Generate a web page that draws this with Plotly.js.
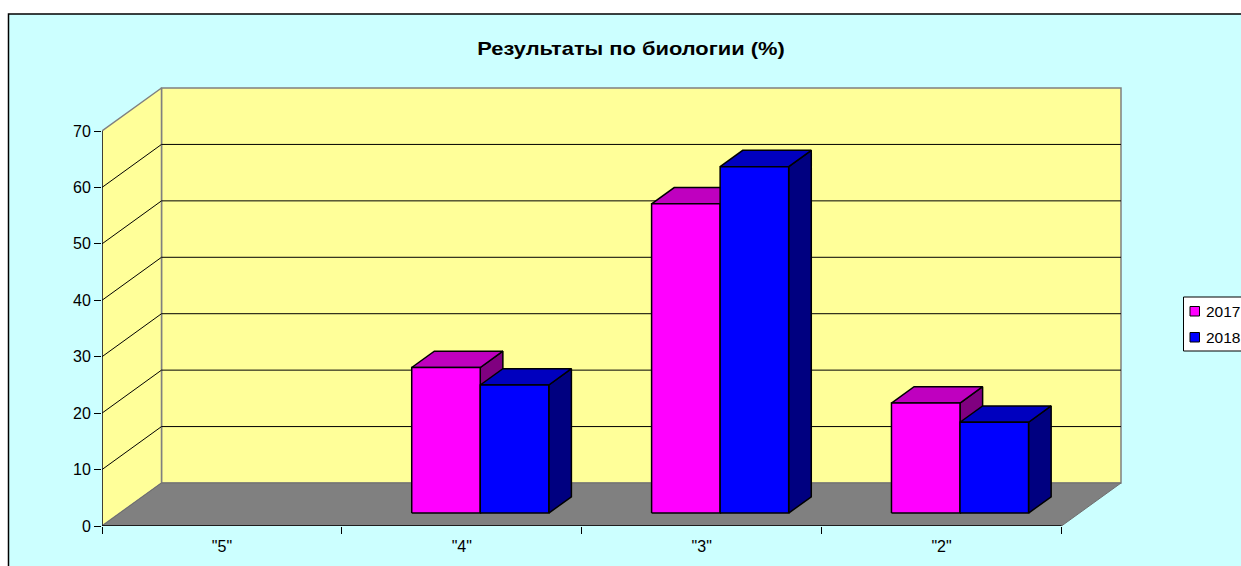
<!DOCTYPE html>
<html>
<head>
<meta charset="utf-8">
<script src="https://cdn.plot.ly/plotly-3.0.1.min.js"></script>
<style>
html,body{margin:0;padding:0;background:#fff;overflow:hidden}
#chart{width:1241px;height:566px}
#chart .gtitle{transform-box:fill-box;transform-origin:center;transform:scaleX(1.215)}
</style>
</head>
<body>
<div id="chart"></div>
<script>
const categories = ['"5"', '"4"', '"3"', '"2"'];
const seriesNames = ['2017', '2018'];
const values2017 = [0, 25.8, 54.8, 19.5];
const values2018 = [0, 22.7, 61.4, 16.1];
const yTicks = [0, 10, 20, 30, 40, 50, 60, 70];
const chartTitle = 'Результаты по биологии (%)';

// pixel frame of the chart
const W = 1241, H = 566;
const L = 102, R = 1122, T = 86, B = 526;
const unitX = (1061.5 - 102) / 4;
const unitY = (526 - 131) / 70;
const depthX = 59.5 / unitX, depthY = 43 / unitY;
const yMax = 70;
const barW = 1 / 3.5, barDepth = 0.38, barGapX = 0.31, barGapY = 0.3;

const font = 'Arial, "Liberation Sans", sans-serif';
const px = x => (x - L) / (R - L);
const py = y => (B - y) / (B - T);

const traces = [];
function poly(xs, ys, fill, line, width) {
  traces.push({
    type: 'scatter', mode: 'lines', x: xs.concat(xs[0]), y: ys.concat(ys[0]),
    fill: 'toself', fillcolor: fill, line: {color: line, width: width},
    hoverinfo: 'skip', showlegend: false, cliponaxis: false
  });
}
function seg(xs, ys, color, width) {
  traces.push({
    type: 'scatter', mode: 'lines', x: xs, y: ys, line: {color: color, width: width},
    hoverinfo: 'skip', showlegend: false, cliponaxis: false
  });
}

const xEnd = categories.length;
// walls and floor
poly([depthX, xEnd + depthX, xEnd + depthX, depthX], [depthY, depthY, yMax + depthY, yMax + depthY], '#FFFF99', '#808080', 1.5);
poly([0, depthX, depthX, 0], [0, depthY, yMax + depthY, yMax], '#FFFF99', '#808080', 1.5);
poly([0, xEnd, xEnd + depthX, depthX], [0, 0, depthY, depthY], '#808080', '#6e6e6e', 1);
// grid lines
yTicks.slice(1, -1).forEach(v => {
  seg([0, depthX, xEnd + depthX], [v, v + depthY, v + depthY], '#000', 1);
});
// axes
seg([0, 0], [0, yMax], '#000', 1.2);
seg([0, xEnd], [0, 0], '#000', 1.5);

// bars
const palettes = [
  {front: '#FF00FF', top: '#BF00BF', side: '#800080'},
  {front: '#0000FF', top: '#0000BF', side: '#000080'}
];
function bar(x0, v, c) {
  const fx = x0 + barGapX * depthX, fy = barGapY * depthY;
  const dx = barDepth * depthX, dy = barDepth * depthY;
  const x1 = fx + barW, top = fy + v;
  poly([x1, x1 + dx, x1 + dx, x1], [fy, fy + dy, top + dy, top], c.side, '#000', 1.5);
  poly([fx, fx + dx, x1 + dx, x1], [top, top + dy, top + dy, top], c.top, '#000', 1.5);
  poly([fx, x1, x1, fx], [fy, fy, top, top], c.front, '#000', 1.5);
}
categories.forEach((c, i) => {
  const start = i + (1 - 2 * barW) / 2;
  if (values2017[i] > 0) bar(start, values2017[i], palettes[0]);
  if (values2018[i] > 0) bar(start + barW, values2018[i], palettes[1]);
});

const legendRows = [311, 337];
const shapes = [
  {type: 'rect', xref: 'paper', yref: 'paper', layer: 'below',
   x0: px(8.5), x1: px(W + 20), y0: py(H + 20), y1: py(14),
   fillcolor: '#CCFFFF', line: {color: '#000', width: 1.5}},
  {type: 'rect', xref: 'paper', yref: 'paper', layer: 'above',
   x0: px(1183.5), x1: px(W + 20), y0: py(351), y1: py(297),
   fillcolor: '#fff', line: {color: '#000', width: 1}}
];
const annotations = [];
seriesNames.forEach((n, i) => {
  const y = legendRows[i];
  shapes.push({type: 'rect', xref: 'paper', yref: 'paper', layer: 'above',
    x0: px(1190), x1: px(1199.5), y0: py(y + 5), y1: py(y - 4.5),
    fillcolor: palettes[i].front, line: {color: '#000', width: 1}});
  annotations.push({xref: 'paper', yref: 'paper', x: px(1204), y: py(y), text: n, showarrow: false,
    xanchor: 'left', yanchor: 'middle', font: {family: font, size: 15.5, color: '#000'}});
});

const layout = {
  width: W, height: H,
  margin: {l: L, r: W - R, t: T, b: H - B, autoexpand: false},
  paper_bgcolor: '#fff', plot_bgcolor: 'rgba(0,0,0,0)',
  showlegend: false,
  title: {text: '<b>' + chartTitle + '</b>', x: 631 / W, xanchor: 'center', xref: 'container',
          y: 1 - 49 / H, yanchor: 'middle', yref: 'container',
          font: {family: font, size: 18, color: '#000'}},
  xaxis: {
    range: [0, (R - L) / unitX], showgrid: false, zeroline: false, showline: false, fixedrange: true,
    tickmode: 'array', tickvals: categories.map((c, i) => i + 0.5), ticktext: categories,
    ticks: '', ticklabelstandoff: 9, tickfont: {family: font, size: 16, color: '#000'},
    minor: {tickmode: 'array', tickvals: [0, 1, 2, 3, 4], ticks: 'outside', ticklen: 7, tickwidth: 1, tickcolor: '#000', showgrid: false}
  },
  yaxis: {
    range: [0, (B - T) / unitY], showgrid: false, zeroline: false, showline: false, fixedrange: true,
    tickmode: 'array', tickvals: yTicks, ticktext: yTicks.map(String),
    ticks: 'outside', ticklen: 7, tickwidth: 1, tickcolor: '#000',
    tickfont: {family: font, size: 16, color: '#000'}
  },
  shapes: shapes, annotations: annotations
};
Plotly.newPlot('chart', traces, layout, {displayModeBar: false, staticPlot: true});
</script>
</body>
</html>
